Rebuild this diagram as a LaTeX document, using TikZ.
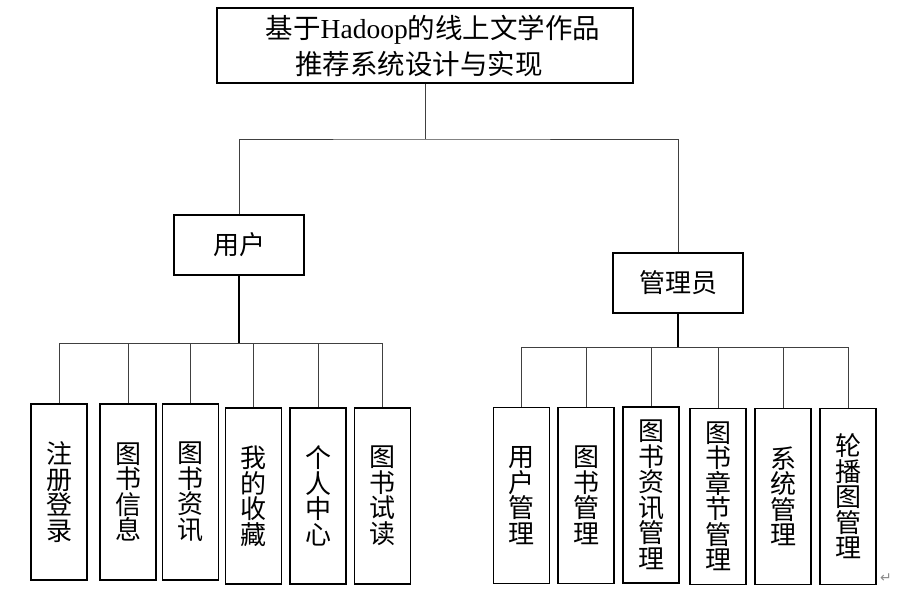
\documentclass[tikz,border=0pt]{standalone}
\usepackage{fontspec}
\setmainfont{Liberation Serif}
\newfontfamily\cjk{Noto Sans CJK SC}
\newfontfamily\symfont{DejaVu Sans}
\usepackage{tikz}

\begin{document}
\begin{tikzpicture}[x=1pt, y=-1pt,
        box/.style={draw, line width=1.3pt, inner sep=0pt, align=center,
          font=\cjk\fontsize{26}{26}\selectfont},
        leaf/.style={box, minimum width=56pt, minimum height=176pt,
          font=\cjk\fontsize{26}{25.5}\selectfont},
        link/.style={draw, line width=0.8pt, black!75},
        trunk/.style={draw, line width=1.8pt}]
        \useasboundingbox (0, 0) rectangle (903, 591);

        \node[box, minimum width=416pt, minimum height=75pt,
          font=\fontsize{27.5}{36}\selectfont] (sys) at (425, 45.5)
          {\hspace*{16pt}{\cjk 基于}Hadoop{\cjk 的线上文学作品}\\{\cjk 推荐系统设计与实现}\hspace*{12pt}};
        \node[box, minimum width=130pt, minimum height=60pt] (user) at (239, 245) {用户};
        \node[box, minimum width=130pt, minimum height=60pt] (admin) at (678, 283) {管理员};

        \coordinate (topbus) at (425, 139);
        \coordinate (userbus) at (239, 343);
        \coordinate (adminbus) at (678, 347);

        \node[leaf] (u1) at (59, 492) {注\\册\\登\\录};
        \node[leaf] (u2) at (128, 492) {图\\书\\信\\息};
        \node[leaf] (u3) at (190.5, 492) {图\\书\\资\\讯};
        \node[leaf] (u4) at (253.5, 496) {我\\的\\收\\藏};
        \node[leaf] (u5) at (318, 496) {个\\人\\中\\心};
        \node[leaf] (u6) at (382.5, 496) {图\\书\\试\\读};

        \node[leaf] (a1) at (521.5, 495.5) {用\\户\\管\\理};
        \node[leaf] (a2) at (586, 495.5) {图\\书\\管\\理};
        \node[leaf] (a3) at (651, 495) {图\\书\\资\\讯\\管\\理};
        \node[leaf] (a4) at (718, 496.5) {图\\书\\章\\节\\管\\理};
        \node[leaf] (a5) at (783, 496.5) {系\\统\\管\\理};
        \node[leaf] (a6) at (848, 496.5) {轮\\播\\图\\管\\理};

        \node[text=black!45, font=\symfont\fontsize{14}{14}\selectfont] (ret) at (886, 578) {↵};

        \draw[link] (sys.south) -- (topbus);
        \draw[link] (user.north) |- (topbus) -| (admin.north);
        \draw[trunk] (user.south) -- (userbus);
        \draw[trunk] (admin.south) -- (adminbus);
        \draw[link] (userbus) -| (u1.north);
        \draw[link] (userbus) -| (u2.north);
        \draw[link] (userbus) -| (u3.north);
        \draw[link] (userbus) -| (u4.north);
        \draw[link] (userbus) -| (u5.north);
        \draw[link] (userbus) -| (u6.north);
        \draw[link] (adminbus) -| (a1.north);
        \draw[link] (adminbus) -| (a2.north);
        \draw[link] (adminbus) -| (a3.north);
        \draw[link] (adminbus) -| (a4.north);
        \draw[link] (adminbus) -| (a5.north);
        \draw[link] (adminbus) -| (a6.north);
      \end{tikzpicture}
\end{document}
